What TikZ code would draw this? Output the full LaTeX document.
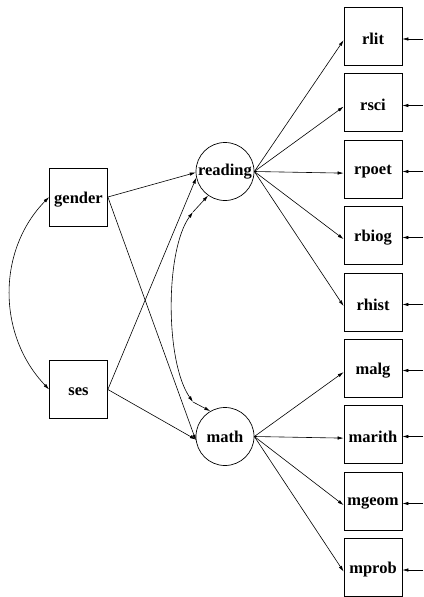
\documentclass[tikz,border=0pt]{standalone}
\usepackage{fontspec}
\setmainfont{Liberation Serif}
\newfontfamily\lblfont{Liberation Serif}[BoldFont={Liberation Serif Bold}]
\usetikzlibrary{arrows.meta}
\tikzset{
  lbl/.style={font=\lblfont\fontsize{16.5}{18}\selectfont\bfseries, inner sep=0pt, yshift=-2.5pt},
  obsbox/.style={draw, line width=0.7pt, minimum width=58pt, minimum height=58pt, inner sep=0pt, label={[lbl]center:#1}},
  latent/.style={draw, circle, line width=0.7pt, minimum size=58pt, inner sep=0pt, font=\lblfont\fontsize{16.5}{18}\selectfont\bfseries},
  path/.style={line width=0.6pt, -{Latex[length=6pt,width=3.4pt]}},
  cov/.style={line width=0.6pt, {Latex[length=6pt,width=3.4pt]}-{Latex[length=6pt,width=3.4pt]}}
}
\begin{document}
\begin{tikzpicture}[x=1pt,y=-1pt]
\useasboundingbox (0,0) rectangle (423,597);
% exogenous
\node[obsbox=gender] (gender) at (78.5,197) {};
\node[obsbox=ses] (ses) at (78.5,389.5) {};
% latent
\node[latent] (reading) at (225,171.5) {reading};
\node[latent] (math) at (225,436.5) {math};
% indicators
\node[obsbox=rlit] (rlit) at (373,36) {};
\node[obsbox=rsci] (rsci) at (373,102.5) {};
\node[obsbox=rpoet] (rpoet) at (373,169) {};
\node[obsbox=rbiog] (rbiog) at (373,235) {};
\node[obsbox=rhist] (rhist) at (373,302) {};
\node[obsbox=malg] (malg) at (373,368) {};
\node[obsbox=marith] (marith) at (373,434) {};
\node[obsbox=mgeom] (mgeom) at (373,501) {};
\node[obsbox=mprob] (mprob) at (373,567.5) {};
% error term starts
\foreach \n/\y in {rlit/39,rsci/105.5,rpoet/171.5,rbiog/237.5,rhist/304.5,malg/370.5,marith/436.5,mgeom/503.5,mprob/570}{
  \coordinate (e\n) at (423,\y);
  \draw[path] (e\n) -- (\n.east |- e\n);
}
% structural paths
\draw[path] (gender.east) -- (reading.182);
\draw[path] (gender.east) -- (math.188);
\draw[path] (ses.east) -- (reading.192);
\draw[path] (ses.east) -- (math.186);
% measurement paths
\foreach \n in {rlit,rsci,rpoet,rbiog,rhist}{
  \draw[path] (reading.east) -- (\n.188);
}
\foreach \n in {malg,marith,mgeom,mprob}{
  \draw[path] (math.east) -- (\n.188);
}
% covariance gender-ses
\draw[cov] (gender.west) .. controls (-3,250) and (-3,335) .. (ses.west);
% covariance reading-math
\coordinate (ct) at (193,212);
\coordinate (cb) at (193,402);
\draw[cov] (ct) .. controls (165,250) and (165,362) .. (cb);
\draw[path] (ct) -- (reading.235);
\draw[path] (cb) -- (math.120);
\end{tikzpicture}
\end{document}
